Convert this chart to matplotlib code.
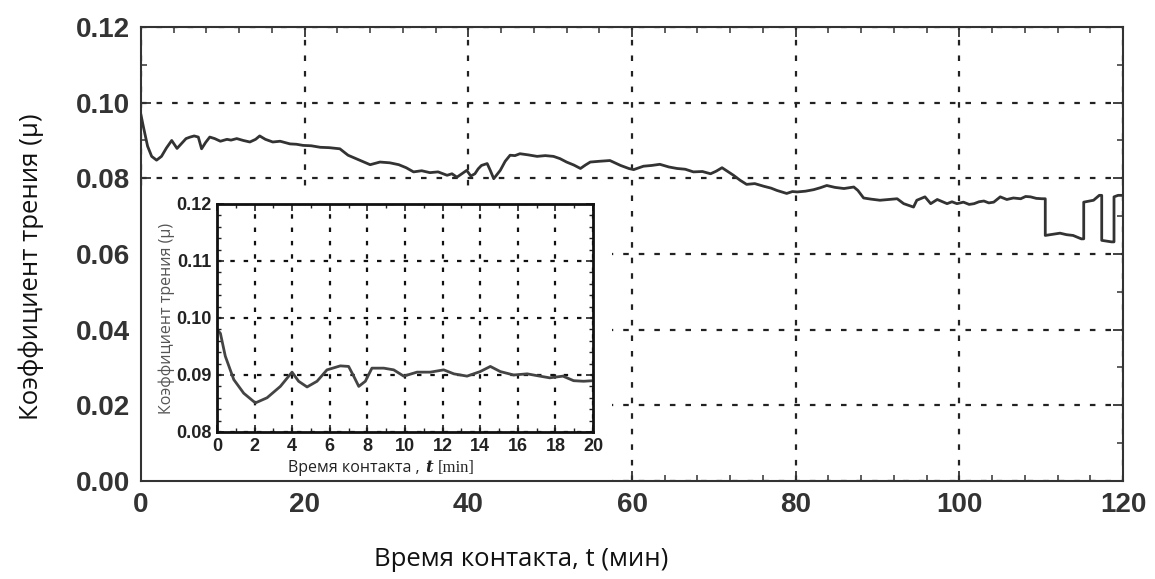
import matplotlib
matplotlib.use("Agg")
import matplotlib.pyplot as plt
from matplotlib.ticker import MultipleLocator, FormatStrFormatter
from matplotlib.patches import Rectangle

# main curve: friction coefficient vs contact time (0-120 min)
time_main = [0, 0.3, 0.8, 1.3, 1.9, 2.5, 3.1, 3.75, 4.4, 5.0, 5.5, 6.0, 6.5, 7.0, 7.4, 7.9,
             8.4, 9.0, 9.7, 10.5, 11.0, 11.7, 12.5, 13.3, 14.0, 14.5, 15.2, 16.1, 17.0, 18.2,
             19.0, 19.8, 20.8, 21.9, 23.0, 24.3, 25.3, 26.5, 28.0, 29.2, 30.4, 31.5, 32.4, 33.3,
             34.3, 35.3, 36.3, 37.4, 38.0, 38.6, 39.2, 39.8, 40.3, 40.8, 41.2, 41.6, 42.3, 42.7,
             43.1, 43.9, 44.5, 45.1, 45.7, 46.3, 47.3, 48.4, 49.4, 50.4, 51.2, 52.0, 52.9, 53.7,
             54.3, 54.9, 56.0, 57.3, 58.1, 58.6, 59.6, 60.2, 61.4, 62.4, 63.4, 64.5, 65.5, 66.5,
             67.5, 68.6, 69.6, 70.3, 71.0, 71.7, 72.4, 73.2, 74.0, 75.0, 76.1, 77.0, 77.7, 78.9,
             79.6, 80.2, 81.2, 82.2, 83.0, 83.8, 84.8, 85.9, 87.1, 87.6, 88.3, 89.2, 90.3, 91.3,
             92.4, 93.2, 94.4, 94.8, 95.8, 96.5, 97.3, 98.5, 99.1, 99.7, 100.5, 101.2, 101.8,
             102.4, 103.0, 103.6, 104.2, 105.0, 105.8, 106.6, 107.5, 108.1, 108.7, 109.4, 110.1,
             110.5, 110.5, 111.4, 112.3, 113.1, 113.9, 114.9, 115.2, 115.2, 116.4, 117.1, 117.4,
             117.4, 118.0, 118.6, 118.9, 118.9, 119.4, 120.0]
mu_main = [0.0967, 0.0935, 0.0885, 0.0858, 0.0848, 0.0858, 0.0880, 0.0900, 0.0879, 0.0893,
           0.0905, 0.0909, 0.0912, 0.0909, 0.0878, 0.0895, 0.0909, 0.0905, 0.0898, 0.0903,
           0.0901, 0.0905, 0.0900, 0.0896, 0.0903, 0.0912, 0.0903, 0.0896, 0.0898, 0.0891,
           0.0890, 0.0887, 0.0886, 0.0882, 0.0881, 0.0878, 0.0861, 0.0850, 0.0836, 0.0843,
           0.0841, 0.0836, 0.0828, 0.0817, 0.0820, 0.0815, 0.0817, 0.0808, 0.0812, 0.0803,
           0.0812, 0.0821, 0.0806, 0.0812, 0.0825, 0.0834, 0.0839, 0.0820, 0.0799, 0.0821,
           0.0845, 0.0861, 0.0860, 0.0865, 0.0862, 0.0858, 0.0860, 0.0858, 0.0852, 0.0843,
           0.0835, 0.0826, 0.0835, 0.0843, 0.0845, 0.0847, 0.0839, 0.0834, 0.0826, 0.0823,
           0.0832, 0.0834, 0.0837, 0.0830, 0.0826, 0.0824, 0.0817, 0.0818, 0.0812, 0.0819,
           0.0828, 0.0818, 0.0808, 0.0795, 0.0784, 0.0786, 0.0779, 0.0774, 0.0768, 0.0760,
           0.0765, 0.0764, 0.0766, 0.0770, 0.0775, 0.0781, 0.0776, 0.0773, 0.0777, 0.0768,
           0.0748, 0.0745, 0.0742, 0.0744, 0.0746, 0.0733, 0.0724, 0.0742, 0.0751, 0.0733,
           0.0744, 0.0733, 0.0738, 0.0733, 0.0737, 0.0731, 0.0733, 0.0738, 0.0740, 0.0735,
           0.0737, 0.0751, 0.0744, 0.0748, 0.0746, 0.0752, 0.0751, 0.0747, 0.0746,
           0.0746, 0.0649, 0.0652, 0.0655, 0.0651, 0.0649, 0.0640, 0.0640, 0.0737, 0.0742,
           0.0755, 0.0755, 0.0636, 0.0634, 0.0632, 0.0632, 0.0751, 0.0755, 0.0755]

# inset: first 20 minutes
time_inset = [0.0, 0.18, 0.44, 0.89, 1.42, 2.04, 2.66, 3.37, 3.99, 4.34, 4.79, 5.32, 5.85,
              6.56, 7.0, 7.27, 7.54, 7.89, 8.24, 8.87, 9.4, 9.93, 10.64, 11.35, 12.06, 12.6,
              13.3, 14.0, 14.54, 15.07, 15.78, 16.5, 17.0, 17.7, 18.4, 18.97, 19.5, 20.0]
mu_inset = [0.0980, 0.0973, 0.0933, 0.0892, 0.0868, 0.0851, 0.0860, 0.0880, 0.0905, 0.0889,
            0.0879, 0.0889, 0.0909, 0.0916, 0.0915, 0.0898, 0.0880, 0.0889, 0.0912, 0.0912,
            0.0909, 0.0898, 0.0905, 0.0905, 0.0909, 0.0902, 0.0898, 0.0906, 0.0915, 0.0906,
            0.0900, 0.0902, 0.0899, 0.0895, 0.0898, 0.0890, 0.0889, 0.0890]

ylabel_text = "Коэффициент трения (μ)"
xlabel_text = "Время контакта, t (мин)"

fig = plt.figure(figsize=(11.55, 5.79), dpi=100)
ax = fig.add_axes([0.1221, 0.1693, 0.8502, 0.7841])

ax.set_axisbelow(True)
ax.plot(time_main, mu_main, color="#333333", lw=2.0, zorder=3)
ax.set_xlim(0, 120)
ax.set_ylim(0, 0.12)
ax.xaxis.set_major_locator(MultipleLocator(20))
ax.xaxis.set_minor_locator(MultipleLocator(4))
ax.yaxis.set_major_locator(MultipleLocator(0.02))
ax.yaxis.set_minor_locator(MultipleLocator(0.01))
ax.yaxis.set_major_formatter(FormatStrFormatter("%.2f"))
ax.tick_params(which="both", direction="in", top=True, right=True, color="#333333")
ax.tick_params(which="major", length=7, width=1.3, labelsize=20, labelcolor="#333333", pad=8)
ax.tick_params(which="minor", length=4, width=1.1)
for lab in ax.get_xticklabels() + ax.get_yticklabels():
    lab.set_family("Liberation Sans")
    lab.set_fontweight("bold")
for s in ax.spines.values():
    s.set_linewidth(1.5)
    s.set_color("#333333")
ax.grid(True, which="major", color="#222222", linestyle=(0, (2.5, 4.5)), lw=1.6)

# white area behind the inset hides the main grid there
ax.add_patch(Rectangle((0, 0), 57.6, 0.0775, facecolor="white", edgecolor="none", zorder=1))

fig.text(0.027, 0.540, ylabel_text, rotation=90, ha="center", va="center",
         fontsize=18.5, family="Open Sans", color="#111111")
fig.text(0.451, 0.034, xlabel_text, ha="center", va="center",
         fontsize=18.5, family="Open Sans", color="#111111")

# inset
axi = fig.add_axes([0.1879, 0.2539, 0.3255, 0.3938])
axi.set_axisbelow(True)
axi.plot(time_inset, mu_inset, color="#444444", lw=2.0)
axi.set_xlim(0, 20)
axi.set_ylim(0.08, 0.12)
axi.xaxis.set_major_locator(MultipleLocator(2))
axi.xaxis.set_minor_locator(MultipleLocator(1))
axi.yaxis.set_major_locator(MultipleLocator(0.01))
axi.yaxis.set_minor_locator(MultipleLocator(0.002))
axi.yaxis.set_major_formatter(FormatStrFormatter("%.2f"))
axi.tick_params(which="both", direction="in", top=True, right=True, color="#222222")
axi.tick_params(which="major", length=5, width=1.2, labelsize=13, labelcolor="#222222", pad=4)
axi.tick_params(which="minor", length=3, width=1.0)
for lab in axi.get_xticklabels() + axi.get_yticklabels():
    lab.set_family("Liberation Sans")
    lab.set_fontweight("bold")
for s in axi.spines.values():
    s.set_linewidth(2)
    s.set_color("#111111")
axi.grid(True, which="major", color="#111111", linestyle=(0, (2, 4)), lw=1.6)

axi.set_ylabel(ylabel_text, fontsize=11.5, family="Open Sans", color="#555555", labelpad=1)
t1 = axi.text(0.19, -0.175, "Время контакта ,", transform=axi.transAxes, ha="left",
              va="baseline", fontsize=11.5, family="Open Sans", color="#222222")
t2 = axi.annotate("t", xy=(1, 0), xycoords=t1, xytext=(4, 0), textcoords="offset points",
                  va="bottom", ha="left", fontsize=12, family="DejaVu Serif",
                  style="italic", weight="bold", color="#222222")
axi.annotate("[min]", xy=(1, 0), xycoords=t2, xytext=(3, 0), textcoords="offset points",
             va="bottom", ha="left", fontsize=12, family="Liberation Serif", color="#222222")

fig.savefig("out.png", dpi=100)
